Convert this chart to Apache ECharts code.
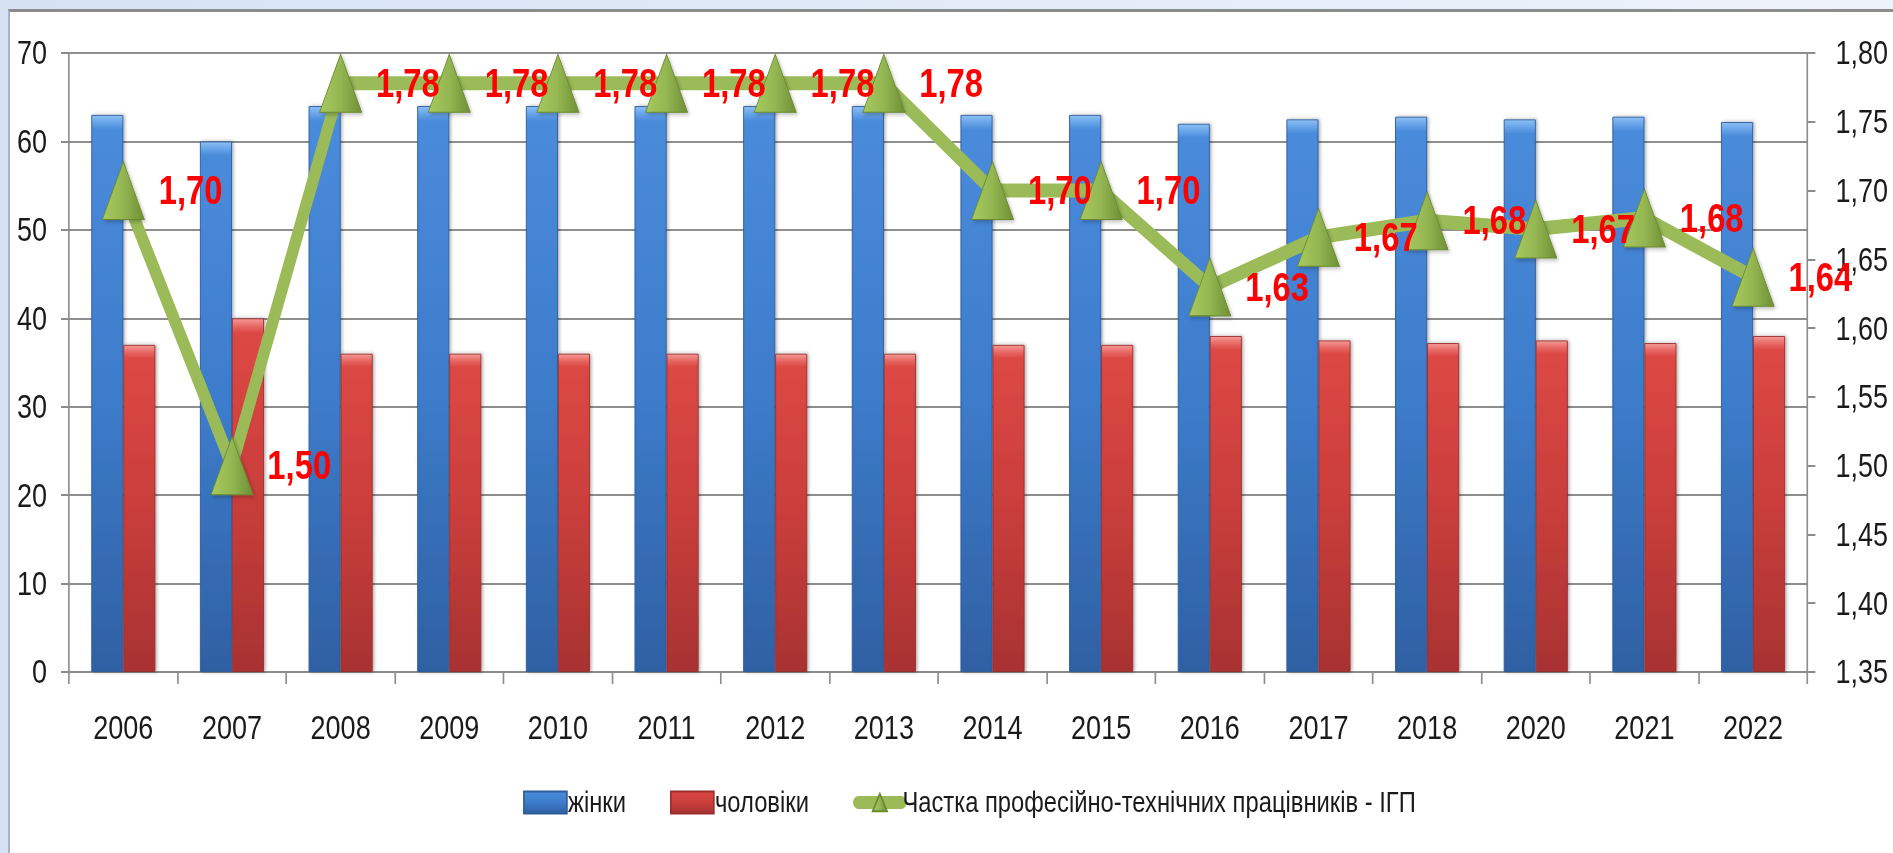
<!DOCTYPE html>
<html>
<head>
<meta charset="utf-8">
<script src="https://cdn.jsdelivr.net/npm/echarts@6/dist/echarts.min.js"></script>
<style>
  html, body { margin: 0; padding: 0; }
  body {
    width: 1893px;
    height: 853px;
    overflow: hidden;
    background: linear-gradient(90deg, #d6e2f4, #eef3fb);
    position: relative;
  }
  .frame {
    position: absolute;
    left: 8px;
    top: 9px;
    right: 0;
    bottom: 0;
    background: #fff;
    border-top: 3px solid #8c8c8c;
    border-left: 2px solid #a7b4c8;
  }
  /* the original uses a narrow font: draw wider and squeeze horizontally */
  #chart {
    position: absolute;
    left: 0;
    top: 0;
    height: 853px;
    transform-origin: 0 0;
  }
</style>
</head>
<body>
<div class="frame"></div>
<div id="chart"></div>
<script>
const years = ['2006', '2007', '2008', '2009', '2010', '2011', '2012', '2013', '2014', '2015', '2016', '2017', '2018', '2020', '2021', '2022']
const women = [63, 60, 64, 64, 64, 64, 64, 64, 63, 63, 62, 62.5, 62.8, 62.5, 62.8, 62.2]
const men = [37, 40, 36, 36, 36, 36, 36, 36, 37, 37, 38, 37.5, 37.2, 37.5, 37.2, 38]
const share = [1.70, 1.50, 1.778, 1.778, 1.778, 1.778, 1.778, 1.778, 1.70, 1.70, 1.63, 1.666, 1.678, 1.672, 1.68, 1.637]

const leftTicks = { min: 0, max: 70, interval: 10 }
const rightTicks = { min: 1.35, max: 1.80, interval: 0.05 }

// horizontal squeeze factor, every horizontal size below goes through px()
const SX = 0.82
const px = v => v / SX

const dom = document.getElementById('chart')
dom.style.width = px(1893) + 'px'
dom.style.transform = 'scaleX(' + SX + ')'

const font = "'Liberation Sans', Arial, sans-serif"
const comma = v => Number(v).toFixed(2).replace('.', ',')

let chart = echarts.init(dom, null, { renderer: 'svg' })
chart.setOption({
  animation: false,
  backgroundColor: 'transparent',
  textStyle: { fontFamily: font },
  grid: {
    left: px(69),
    right: px(86),
    top: 53,
    bottom: 181
  },
  legend: {
    left: px(519),
    top: 783,
    itemWidth: px(43),
    itemHeight: 22,
    itemGap: px(44),
    textStyle: { fontSize: 29, color: '#1a1a1a', fontFamily: font, padding: [0, 0, 0, -px(3)] },
    lineStyle: { width: 13, cap: 'round' },
    data: [
      { name: 'жінки', icon: 'rect' },
      { name: 'чоловіки', icon: 'rect' },
      'Частка професійно-технічних працівників - ІГП'
    ]
  },
  xAxis: {
    type: 'category',
    data: years,
    boundaryGap: true,
    axisLine: { lineStyle: { color: '#8c8c8c', width: 2 } },
    axisTick: { show: true, length: 12, lineStyle: { color: '#8c8c8c', width: 2 } },
    axisLabel: { fontSize: 33, color: '#1a1a1a', margin: 39, interval: 0 }
  },
  yAxis: [
    {
      type: 'value',
      min: leftTicks.min,
      max: leftTicks.max,
      interval: leftTicks.interval,
      axisLine: { show: true, lineStyle: { color: '#8c8c8c', width: 2 } },
      axisTick: { show: true, length: px(8), lineStyle: { color: '#8c8c8c', width: 2 } },
      axisLabel: { fontSize: 33, color: '#1a1a1a', margin: px(22) },
      splitLine: { lineStyle: { color: '#8e8e8e', width: 2 } }
    },
    {
      type: 'value',
      position: 'right',
      min: rightTicks.min,
      max: rightTicks.max,
      interval: rightTicks.interval,
      axisLine: { show: true, lineStyle: { color: '#8c8c8c', width: 2 } },
      axisTick: { show: true, length: px(8), lineStyle: { color: '#8c8c8c', width: 2 } },
      axisLabel: { fontSize: 33, color: '#1a1a1a', margin: px(28), formatter: comma },
      splitLine: { show: false }
    }
  ],
  series: [
    {
      name: 'жінки',
      type: 'bar',
      data: women,
      barWidth: px(32),
      barGap: '0%',
      itemStyle: {
        color: new echarts.graphic.LinearGradient(0, 0, 0, 1, [
          { offset: 0, color: '#8cc0f5' },
          { offset: 0.012, color: '#6aa6ea' },
          { offset: 0.025, color: '#4a8bdb' },
          { offset: 0.5, color: '#3d7ccb' },
          { offset: 1, color: '#2f60a3' }
        ]),
        borderColor: '#2d5c9a',
        borderWidth: 1,
        shadowColor: 'rgba(0,0,0,0.3)',
        shadowBlur: 4,
        shadowOffsetX: 2
      }
    },
    {
      name: 'чоловіки',
      type: 'bar',
      data: men,
      barWidth: px(32),
      itemStyle: {
        color: new echarts.graphic.LinearGradient(0, 0, 0, 1, [
          { offset: 0, color: '#f59a96' },
          { offset: 0.02, color: '#e86a66' },
          { offset: 0.04, color: '#dc4844' },
          { offset: 0.5, color: '#c93e3b' },
          { offset: 1, color: '#a83232' }
        ]),
        borderColor: '#9a2d2d',
        borderWidth: 1,
        shadowColor: 'rgba(0,0,0,0.3)',
        shadowBlur: 4,
        shadowOffsetX: 2
      }
    },
    {
      name: 'Частка професійно-технічних працівників - ІГП',
      type: 'line',
      yAxisIndex: 1,
      data: share,
      symbol: 'triangle',
      symbolSize: [px(42), 58],
      z: 5,
      lineStyle: { color: '#9bbb59', width: 14 },
      itemStyle: {
        color: new echarts.graphic.LinearGradient(0, 0, 1, 0, [
          { offset: 0, color: '#a8c95f' },
          { offset: 0.5, color: '#94b652' },
          { offset: 1, color: '#6f8f34' }
        ]),
        borderColor: '#6a8a30',
        borderWidth: 1,
        shadowColor: 'rgba(0,0,0,0.25)',
        shadowBlur: 4,
        shadowOffsetX: 2,
        shadowOffsetY: 2
      },
      label: {
        show: true,
        position: 'right',
        distance: px(14),
        color: '#ff0000',
        fontSize: 40,
        fontWeight: 'bold',
        fontFamily: font,
        formatter: p => comma(p.value)
      }
    }
  ]
})
</script>
</body>
</html>
